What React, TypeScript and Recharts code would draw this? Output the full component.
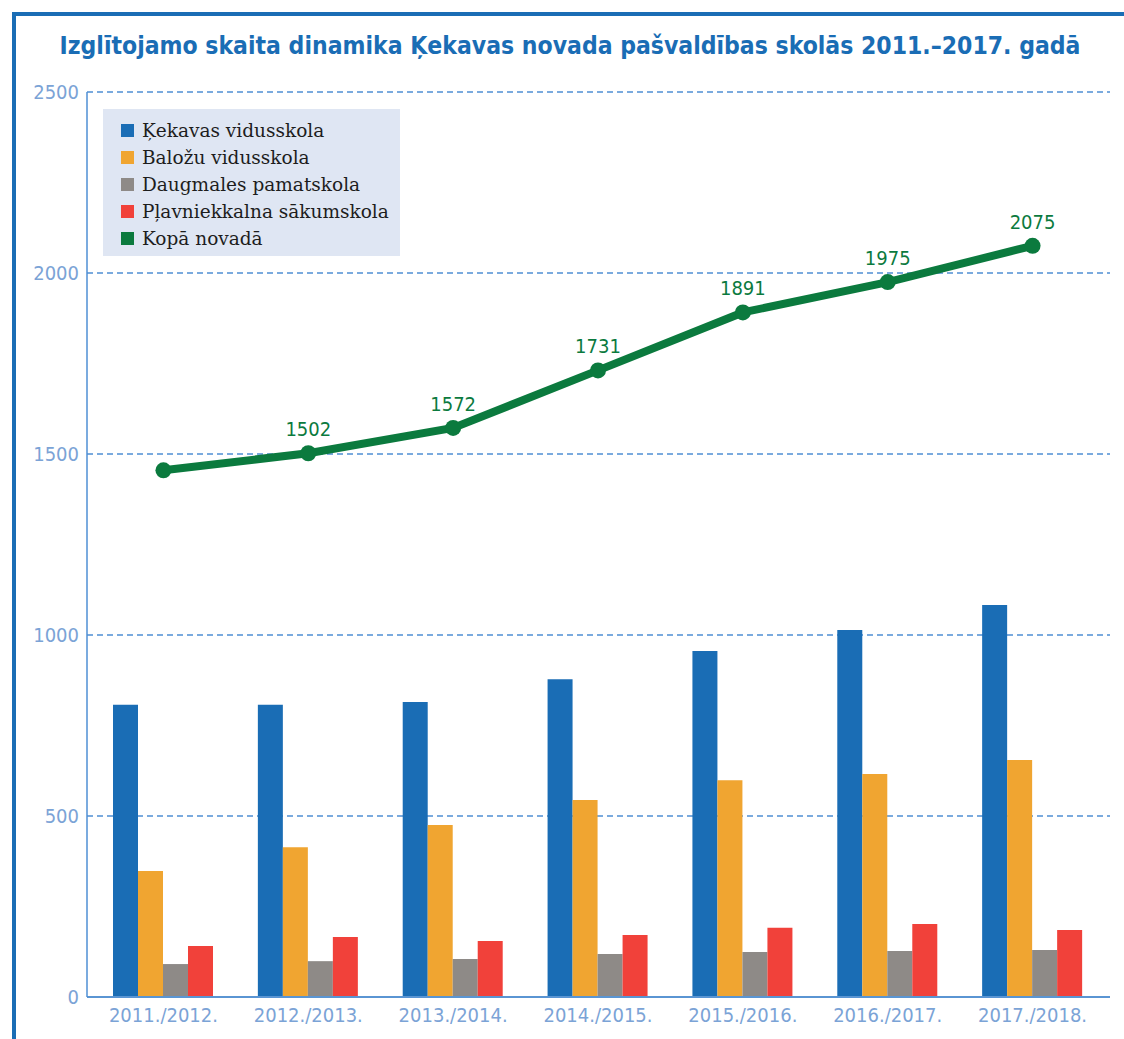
import {
  ComposedChart,
  Bar,
  Line,
  XAxis,
  YAxis,
  CartesianGrid,
  LabelList,
} from "recharts";

const years = [
  "2011./2012.",
  "2012./2013.",
  "2013./2014.",
  "2014./2015.",
  "2015./2016.",
  "2016./2017.",
  "2017./2018.",
];
const kekavas = [807, 807, 815, 878, 956, 1014, 1083];
const balozu = [348, 414, 475, 544, 599, 616, 655];
const daugmales = [91, 99, 105, 119, 124, 127, 130];
const plavniekkalna = [141, 166, 155, 171, 191, 202, 185];
const kopa = [1455, 1502, 1572, 1731, 1891, 1975, 2075];
const kopaLabels = [null, "1502", "1572", "1731", "1891", "1975", "2075"];
const yTicks = [0, 500, 1000, 1500, 2000, 2500];

const series = [
  { key: "kekavas", name: "Ķekavas vidusskola", color: "#1a6db5" },
  { key: "balozu", name: "Baložu vidusskola", color: "#f0a531" },
  { key: "daugmales", name: "Daugmales pamatskola", color: "#8e8a87" },
  { key: "plavniekkalna", name: "Pļavniekkalna sākumskola", color: "#f1413a" },
];
const totalName = "Kopā novadā";
const green = "#0b7a3e";

const data = years.map((y, i) => ({
  year: y,
  kekavas: kekavas[i],
  balozu: balozu[i],
  daugmales: daugmales[i],
  plavniekkalna: plavniekkalna[i],
  kopa: kopa[i],
  kopaLabel: kopaLabels[i],
}));

const axisFont = "'DejaVu Sans Condensed', 'Noto Sans', sans-serif";

export default function App() {
  const legendItems = [
    ...series.map((s) => ({ name: s.name, color: s.color })),
    { name: totalName, color: green },
  ];
  return (
    <div
      style={{
        position: "absolute",
        left: 0,
        top: 0,
        width: 1124,
        height: 1039,
        background: "#fff",
        overflow: "hidden",
      }}
    >
      <div
        style={{
          position: "absolute",
          left: 12,
          top: 12,
          width: 1112,
          height: 1027,
          borderTop: "4px solid #1a6db5",
          borderLeft: "4px solid #1a6db5",
        }}
      />
      <div
        style={{
          position: "absolute",
          left: 16,
          top: 31,
          width: 1108,
          textAlign: "center",
          fontFamily: "'DejaVu Sans Condensed', sans-serif",
          fontStretch: "condensed",
          fontWeight: "bold",
          fontSize: 24.5,
          color: "#1a6db5",
        }}
      >
        Izglītojamo skaita dinamika Ķekavas novada pašvaldības skolās 2011.–2017. gadā
      </div>
      <div style={{ position: "absolute", left: 0, top: 0 }}>
        <ComposedChart
          width={1124}
          height={1039}
          data={data}
          margin={{ top: 92, right: 14, bottom: 12, left: 0 }}
          barGap={0}
          barCategoryGap={22}
        >
          <CartesianGrid
            horizontal
            vertical={false}
            stroke="#4f8fd4"
            strokeDasharray="6 4"
            strokeWidth={1.3}
          />
          <XAxis
            dataKey="year"
            padding={{ left: 4, right: 5 }}
            tickLine={false}
            axisLine={{ stroke: "#5a95d3", strokeWidth: 2 }}
            tick={{ fill: "#7ba3d6", fontSize: 20, fontFamily: axisFont }}
            height={30}
            tickMargin={5}
          />
          <YAxis
            domain={[0, 2500]}
            ticks={yTicks}
            width={87}
            tickLine={false}
            axisLine={{ stroke: "#4f8fd4", strokeWidth: 1.5 }}
            tick={{ fill: "#7ba3d6", fontSize: 20, fontFamily: axisFont }}
          />
          {series.map((s) => (
            <Bar
              key={s.key}
              dataKey={s.key}
              name={s.name}
              fill={s.color}
              isAnimationActive={false}
            />
          ))}
          <Line
            dataKey="kopa"
            name={totalName}
            stroke={green}
            strokeWidth={8}
            dot={{ r: 8, fill: green, stroke: green, strokeWidth: 0 }}
            activeDot={false}
            isAnimationActive={false}
          >
            <LabelList
              dataKey="kopaLabel"
              position="top"
              offset={17}
              fill={green}
              fontSize={20}
              fontFamily={axisFont}
            />
          </Line>
        </ComposedChart>
      </div>
      <div
        style={{
          position: "absolute",
          left: 103,
          top: 109,
          width: 297,
          height: 147,
          background: "#dfe6f3",
          boxSizing: "border-box",
          padding: "8px 0 0 18px",
        }}
      >
        {legendItems.map((it) => (
          <div
            key={it.name}
            style={{
              display: "flex",
              alignItems: "center",
              height: 27,
              fontFamily: "'DejaVu Serif', serif",
              fontSize: 18.5,
              color: "#1d1d1d",
              whiteSpace: "nowrap",
            }}
          >
            <span
              style={{
                display: "inline-block",
                width: 13,
                height: 13,
                background: it.color,
                marginRight: 8,
                flexShrink: 0,
              }}
            />
            {it.name}
          </div>
        ))}
      </div>
    </div>
  );
}
